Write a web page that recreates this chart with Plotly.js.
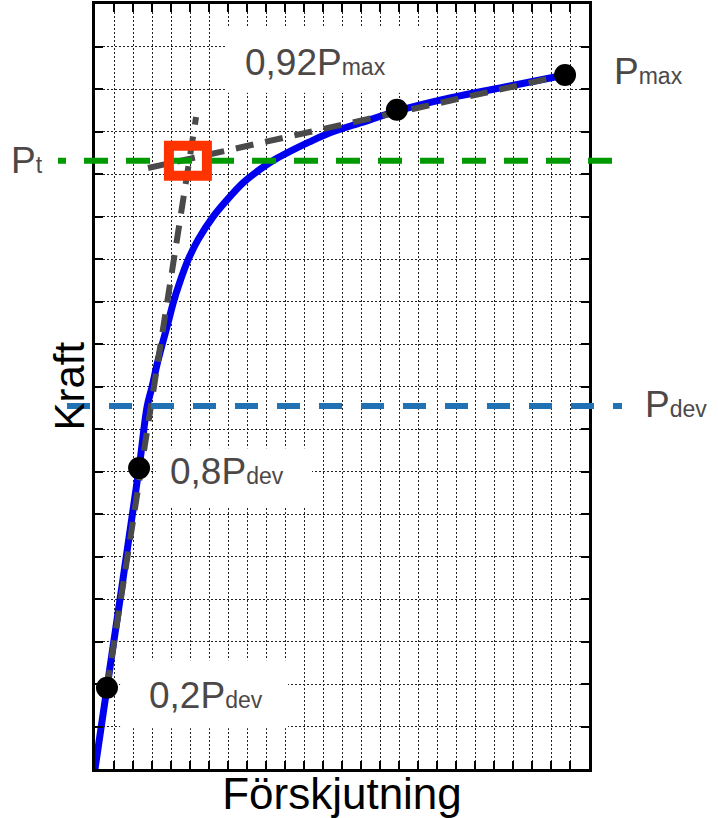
<!DOCTYPE html>
<html>
<head>
<meta charset="utf-8">
<script src="https://cdn.plot.ly/plotly-3.0.1.min.js"></script>
<style>html,body{margin:0;padding:0;background:#fff;}#chart{width:718px;height:818px;}</style>
</head>
<body>
<div id="chart"></div>
<script>
// Load–displacement curve (arbitrary grid units)
const displacement = [0, 0.63, 2.32, 2.74, 3.0, 3.26, 3.53, 3.84, 4.13, 4.45, 4.9, 5.42, 6.21, 6.95, 7.79, 8.63, 9.42, 10.21, 11.26, 12.37, 13.95, 15.89, 18.68, 21.84, 24.74];
const force        = [0, 1.91, 7.08, 8.52, 8.99, 9.51, 9.98, 10.49, 10.99, 11.44, 11.98, 12.45, 12.99, 13.39, 13.79, 14.09, 14.33, 14.52, 14.75, 14.97, 15.2, 15.48, 15.79, 16.07, 16.33];

// Marked points
const pointNames = ['0,2Pdev', '0,8Pdev', '0,92Pmax', 'Pmax'];
const pointX = [0.63, 2.32, 15.89, 24.74];
const pointY = [1.91, 7.08, 15.51, 16.33];

// Tangent (construction) lines
const tangentLowX  = [0.63, 5.32];
const tangentLowY  = [1.91, 15.34];
const tangentHighX = [2.79, 24.74];
const tangentHighY = [14.14, 16.33];

// Reference force levels
const levelNames  = ['Pdev', 'Pt'];
const levelValues = [8.54, 14.31];
const intersectX  = 4.89;   // intersection of tangents at Pt

// Axis titles
const xTitle = 'Förskjutning';
const yTitle = 'Kraft';

const FONT = 'Liberation Sans, Arial, sans-serif';
const TXT = '#4d4848';
const sub = s => '<span style="font-size:23px">' + s + '</span>';

const traces = [
  { x: displacement, y: force, mode: 'lines', line: {color: '#0000ee', width: 7, shape: 'spline', smoothing: 1}, showlegend: false },
  { x: tangentLowX, y: tangentLowY, mode: 'lines', line: {color: '#4a4a4a', width: 6, dash: '18px,12px'}, showlegend: false },
  { x: tangentHighX, y: tangentHighY, mode: 'lines', line: {color: '#4a4a4a', width: 6, dash: '18px,12px'}, showlegend: false },
  { x: pointX, y: pointY, text: pointNames, mode: 'markers', marker: {color: '#000', size: 22}, cliponaxis: false, showlegend: false }
];

const pdev = levelValues[0], pt = levelValues[1];

const shapes = [
  // white label backgrounds (between grid and traces)
  {type: 'rect', layer: 'between', xref: 'x', yref: 'y', x0: 6.84, x1: 17.26, y0: 15.91, y1: 17.44, fillcolor: '#fff', line: {width: 0}},
  {type: 'rect', layer: 'between', xref: 'x', yref: 'y', x0: 3.2, x1: 11.42, y0: 6.16, y1: 7.55, fillcolor: '#fff', line: {width: 0}},
  {type: 'rect', layer: 'between', xref: 'x', yref: 'y', x0: 1.32, x1: 10.16, y0: 0.96, y1: 2.56, fillcolor: '#fff', line: {width: 0}},
  // reference levels
  {type: 'line', xref: 'paper', yref: 'y', x0: 1.0466, x1: -0.0749, y0: pt, y1: pt, line: {color: '#009a00', width: 6, dash: '24px,18px'}},
  {type: 'line', xref: 'paper', yref: 'y', x0: -0.0567, x1: 1.0668, y0: pdev, y1: pdev, line: {color: '#2171b5', width: 6, dash: '23px,19px'}},
  // red square at tangent intersection
  {type: 'rect', xref: 'x', yref: 'y', xsizemode: 'pixel', ysizemode: 'pixel', xanchor: intersectX, yanchor: pt,
   x0: -19, x1: 19, y0: -15, y1: 15, line: {color: '#ff3300', width: 10}, fillcolor: 'rgba(0,0,0,0)'}
];

const ann = (text, x, y, xref, xanchor, yshift) => ({
  text: text, x: x, y: y, xref: xref, yref: 'y', xanchor: xanchor, yanchor: 'middle', yshift: yshift || 0,
  showarrow: false, font: {family: FONT, size: 37, color: TXT}
});

const annotations = [
  ann('0,92P' + sub('max'), 11.63, 16.62, 'x', 'center'),
  ann('0,8P' + sub('dev'), 6.95, 6.99, 'x', 'center'),
  ann('0,2P' + sub('dev'), 5.84, 1.74, 'x', 'center'),
  ann('P' + sub('max'), 1.0466, pointY[3], 'paper', 'left', 3),
  ann('P' + sub('dev'), 1.1093, pdev, 'paper', 'left', 2),
  ann('P' + sub('t'), -0.1012, pt, 'paper', 'right', 0),
  // y-axis title
  {text: yTitle, x: -0.0769, y: 0.5, xref: 'paper', yref: 'paper', xanchor: 'center', yanchor: 'middle', textangle: -90,
   xshift: 12, showarrow: false, font: {family: FONT, size: 42, color: '#000'}}
];

const axisCommon = {
  showticklabels: false, ticks: 'inside', ticklen: 8, tickwidth: 2, tickcolor: '#000',
  dtick: 1, tick0: 0, showline: true, linecolor: '#000', linewidth: 3, mirror: 'ticks',
  showgrid: true, gridcolor: '#222', gridwidth: 1, griddash: '2px,2px', zeroline: false, fixedrange: true
};

const layout = {
  width: 718, height: 818,
  margin: {l: 95, r: 129, t: 4, b: 49},
  paper_bgcolor: '#fff', plot_bgcolor: '#fff',
  font: {family: FONT},
  xaxis: Object.assign({}, axisCommon, {range: [0, 26], title: {text: xTitle, font: {family: FONT, size: 44, color: '#000'}, standoff: 11}}),
  yaxis: Object.assign({}, axisCommon, {range: [0, 18]}),
  shapes: shapes,
  annotations: annotations,
  showlegend: false,
  hovermode: false
};

Plotly.newPlot('chart', traces, layout, {displayModeBar: false, staticPlot: true});
</script>
</body>
</html>
